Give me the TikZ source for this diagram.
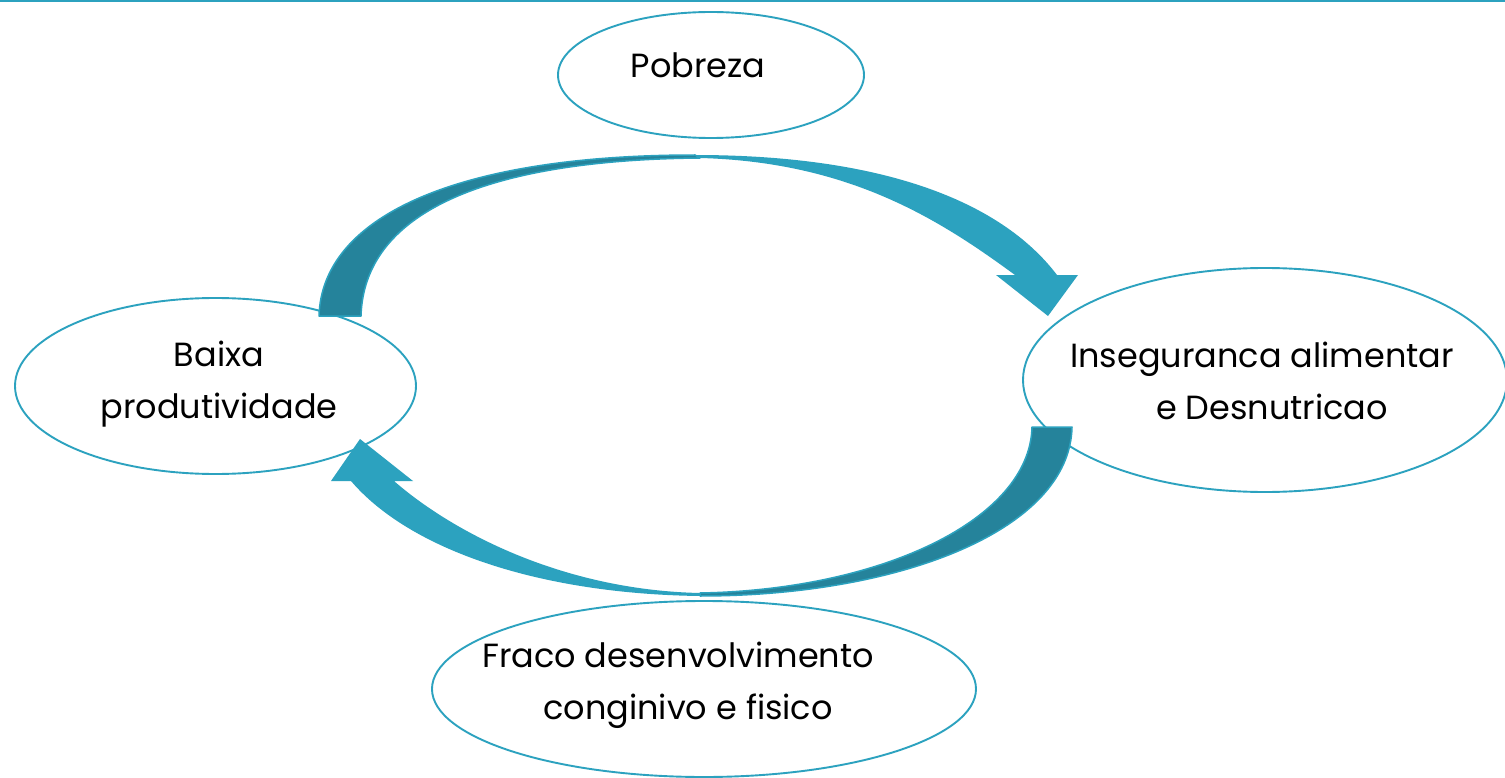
\documentclass[tikz,border=0pt]{standalone}
\usepackage{fontspec}
\setmainfont{Poppins}
\usetikzlibrary{shapes.geometric}
\definecolor{tealL}{HTML}{2CA2BF}
\definecolor{tealD}{HTML}{25839B}
\begin{document}
\begin{tikzpicture}[x=1pt,y=-1pt,
  oval/.style={ellipse,draw=tealL,line width=1.9pt,inner sep=0pt},
  lbl/.style={align=center,font=\fontsize{33.5}{52}\selectfont,text=black,inner sep=0pt},
  darkband/.style={fill=tealD,draw=tealL,line width=1.5pt,line join=round},
  lightband/.style={fill=tealL,draw=none}]
\useasboundingbox (0,0) rectangle (1505,778);
\fill[white] (0,0) rectangle (1505,778);
\draw[tealL,line width=2pt] (0,1) -- (1505,1);
% ellipses
\node[oval,minimum width=306pt,minimum height=126pt] (pob) at (711,75) {};
\node[oval,minimum width=401pt,minimum height=176pt] (baixa) at (215.5,386) {};
\node[oval,minimum width=484pt,minimum height=224pt] (inseg) at (1265,380) {};
\node[oval,minimum width=544pt,minimum height=176pt] (fraco) at (704,689) {};
% texts
\node[lbl] (tpob) at (698,65) {Pobreza};
\node[lbl] (tbaixa) at (219,384) {Baixa\\produtividade};
\node[lbl] (tinseg) at (1262,381) {Inseguranca alimentar\\\hspace*{0.6em}e Desnutricao};
\node[lbl] (tfraco) at (678,685) {Fraco desenvolvimento\\\hspace*{0.6em}conginivo e fisico};
% top curved arrow: dark back part
\draw[darkband] (319,316) .. controls (322,215) and (460,155) .. (695,155)
  -- (700,158) .. controls (480,160) and (364,215) .. (361,316) -- cycle;
% top curved arrow: light front part with head
\fill[lightband] (695,155) .. controls (880,155) and (1000,200) .. (1057,275)
  -- (1078,275) -- (1048,316) -- (996,275) -- (1015,275)
  .. controls (940,220) and (850,162) .. (700,158) -- cycle;
% bottom curved arrow: dark back part
\draw[darkband] (1072,427) .. controls (1070,530) and (900,596) .. (700,596)
  -- (700,593) .. controls (880,590) and (1030,520) .. (1032,427) -- cycle;
% bottom curved arrow: light front part with head
\fill[lightband] (700,596) .. controls (540,594) and (410,550) .. (351,481)
  -- (331,481) -- (360,439) -- (413,481) -- (394,481)
  .. controls (450,530) and (560,590) .. (700,593) -- cycle;
\end{tikzpicture}
\end{document}
